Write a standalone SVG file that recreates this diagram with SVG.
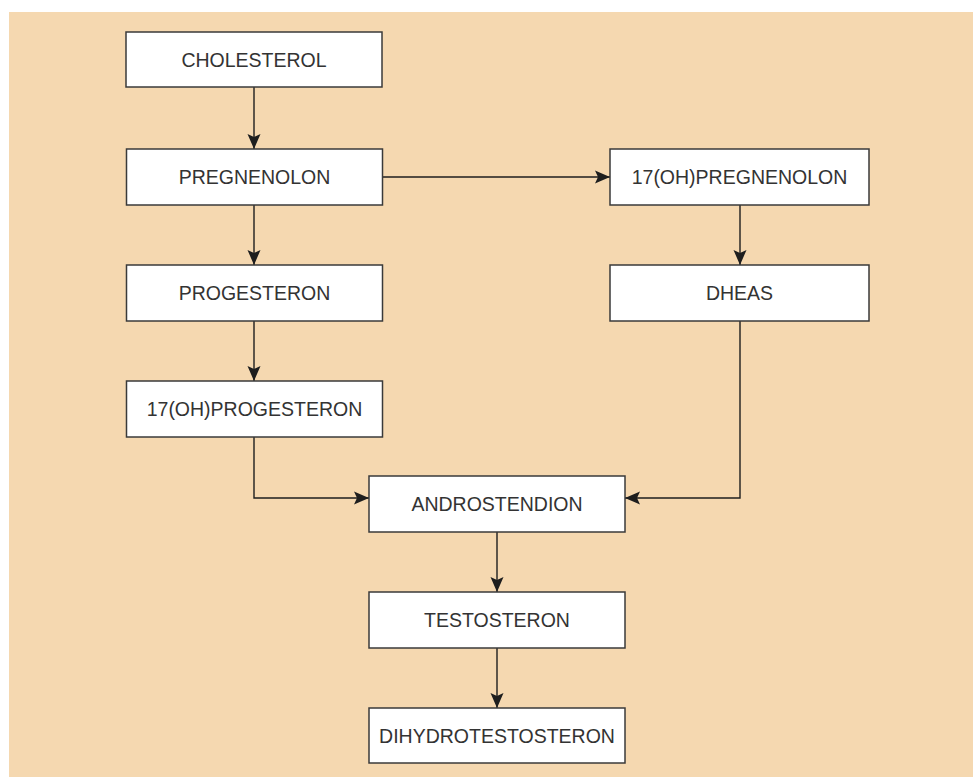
<svg xmlns="http://www.w3.org/2000/svg" width="973" height="777" viewBox="0 0 973 777">
<style>
.box{fill:#ffffff;stroke:#3a3a3a;stroke-width:1.5}
.lbl{font-family:"Liberation Sans",Arial,Helvetica,sans-serif;font-size:19.5px;fill:#333333;text-anchor:middle}
.con{fill:none;stroke:#1e1e1e;stroke-width:1.4}
</style>
<defs>
<marker id="ah" markerUnits="userSpaceOnUse" markerWidth="18" markerHeight="14" refX="15" refY="7" orient="auto">
<path d="M0,0.5 L15,7 L0,13.5 L3,7 z" fill="#1e1e1e"/>
</marker>
</defs>
<rect x="9" y="12" width="964" height="765" fill="#f5d8b0"/>
<g id="connectors">
<line class="con" x1="254" y1="87" x2="254" y2="149" marker-end="url(#ah)"/>
<line class="con" x1="382" y1="177" x2="610" y2="177" marker-end="url(#ah)"/>
<line class="con" x1="254" y1="205" x2="254" y2="265" marker-end="url(#ah)"/>
<line class="con" x1="254" y1="321" x2="254" y2="381" marker-end="url(#ah)"/>
<line class="con" x1="740" y1="205" x2="740" y2="265" marker-end="url(#ah)"/>
<polyline class="con" points="254,437 254,498 369,498" marker-end="url(#ah)"/>
<polyline class="con" points="740,321 740,498 625,498" marker-end="url(#ah)"/>
<line class="con" x1="497" y1="532" x2="497" y2="592" marker-end="url(#ah)"/>
<line class="con" x1="497" y1="648" x2="497" y2="708" marker-end="url(#ah)"/>
</g>
<g id="cholesterol"><rect class="box" x="126" y="32" width="256" height="55"/><text class="lbl" x="254" y="66.5">CHOLESTEROL</text></g>
<g id="pregnenolon"><rect class="box" x="126.5" y="149" width="256" height="56"/><text class="lbl" x="254.5" y="184">PREGNENOLON</text></g>
<g id="oh-pregnenolon"><rect class="box" x="610" y="149" width="259" height="56"/><text class="lbl" x="739.5" y="184">17(OH)PREGNENOLON</text></g>
<g id="progesteron"><rect class="box" x="126.5" y="265" width="256" height="56"/><text class="lbl" x="254.5" y="300">PROGESTERON</text></g>
<g id="dheas"><rect class="box" x="610" y="265" width="259" height="56"/><text class="lbl" x="739.5" y="300">DHEAS</text></g>
<g id="oh-progesteron"><rect class="box" x="126.5" y="381" width="256" height="56"/><text class="lbl" x="254.5" y="416">17(OH)PROGESTERON</text></g>
<g id="androstendion"><rect class="box" x="369" y="476" width="256" height="56"/><text class="lbl" x="497" y="511">ANDROSTENDION</text></g>
<g id="testosteron"><rect class="box" x="369" y="592" width="256" height="56"/><text class="lbl" x="497" y="627">TESTOSTERON</text></g>
<g id="dihydrotestosteron"><rect class="box" x="369" y="708" width="256" height="55"/><text class="lbl" x="497" y="742.5">DIHYDROTESTOSTERON</text></g>
</svg>
